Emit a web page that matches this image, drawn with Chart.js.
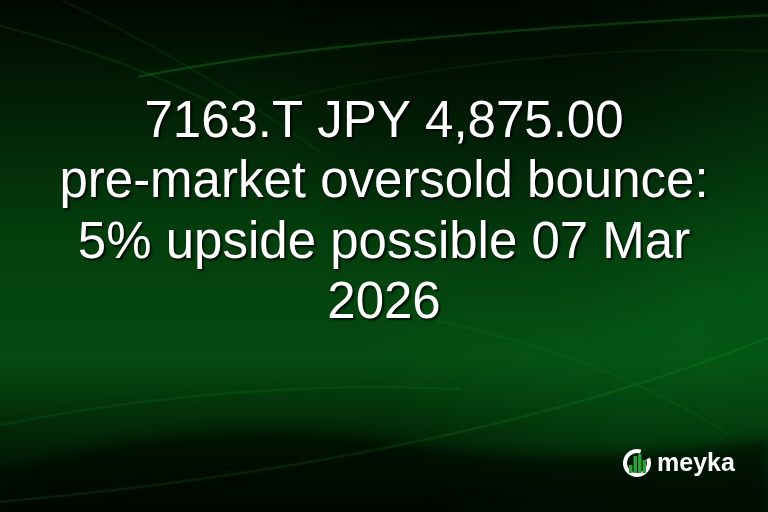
<!DOCTYPE html>
<html>
<head>
<meta charset="utf-8">
<script src="https://cdn.jsdelivr.net/npm/chart.js@4.4.1/dist/chart.umd.min.js"></script>
<style>
  html,body{margin:0;padding:0;background:#021203;}
  #wrap{width:768px;height:512px;position:relative;}
</style>
</head>
<body>
<div id="wrap"><canvas id="c" width="768" height="512"></canvas></div>
<script>
// headline lines and brand text
const titleLines = ["7163.T JPY 4,875.00", "pre-market oversold bounce:", "5% upside possible 07 Mar", "2026"];
const brandName = "meyka";
// no data series in this picture - it is a title card
const labels = [];
const values = [];

// light streaks across the background (start, control, end points as fractions, alpha)
const streaks = [
  [[0.18,0.15],[0.45,0.07],[1.00,0.03], 0.22],
  [[0.00,0.05],[0.18,0.12],[0.30,0.22], 0.10],
  [[0.08,0.00],[0.25,0.12],[0.42,0.30], 0.08],
  [[0.35,0.20],[0.70,0.08],[1.00,0.10], 0.08],
  [[0.00,0.83],[0.30,0.74],[0.60,0.76], 0.10],
  [[0.00,0.98],[0.60,0.90],[1.00,0.66], 0.12],
  [[0.55,0.62],[0.80,0.70],[0.95,0.85], 0.07],
];

const bgPlugin = {
  id: "bg",
  beforeDraw(chart){
    const {ctx, width:w, height:h} = chart;
    ctx.save();
    let g = ctx.createLinearGradient(0,0,0,h);
    g.addColorStop(0, "#000701");
    g.addColorStop(0.18, "#021d05");
    g.addColorStop(0.45, "#033d0c");
    g.addColorStop(0.7, "#054a10");
    g.addColorStop(0.85, "#022506");
    g.addColorStop(1, "#000701");
    ctx.fillStyle = g;
    ctx.fillRect(0,0,w,h);
    // brighter glow on the right side
    let r = ctx.createRadialGradient(w*0.9, h*0.55, 5, w*0.9, h*0.55, w*0.45);
    r.addColorStop(0, "rgba(5,100,25,0.6)");
    r.addColorStop(1, "rgba(5,100,25,0)");
    ctx.fillStyle = r;
    ctx.fillRect(0,0,w,h);
    // dark top-right corner
    let d = ctx.createRadialGradient(w*0.75, 0, 5, w*0.75, 0, w*0.45);
    d.addColorStop(0, "rgba(0,6,0,0.8)");
    d.addColorStop(1, "rgba(0,6,0,0)");
    ctx.fillStyle = d;
    ctx.fillRect(0,0,w,h);
    // dark hump at the bottom
    ctx.beginPath();
    ctx.moveTo(0, h*0.92);
    ctx.bezierCurveTo(w*0.2, h*0.84, w*0.35, h*0.82, w*0.5, h*0.86);
    ctx.bezierCurveTo(w*0.65, h*0.9, w*0.8, h*0.9, w, h*0.86);
    ctx.lineTo(w, h); ctx.lineTo(0, h); ctx.closePath();
    let hb = ctx.createLinearGradient(0, h*0.82, 0, h);
    hb.addColorStop(0, "rgba(0,10,0,0.55)");
    hb.addColorStop(1, "rgba(0,6,0,0.8)");
    ctx.fillStyle = hb;
    ctx.filter = "blur(6px)";
    ctx.fill();
    ctx.filter = "none";
    streaks.forEach(s => {
      ctx.beginPath();
      ctx.moveTo(s[0][0]*w, s[0][1]*h);
      ctx.quadraticCurveTo(s[1][0]*w, s[1][1]*h, s[2][0]*w, s[2][1]*h);
      ctx.strokeStyle = `rgba(50,190,60,${s[3]})`;
      ctx.lineWidth = 2.5;
      ctx.shadowColor = "rgba(30,170,40,0.6)";
      ctx.shadowBlur = 10;
      ctx.stroke();
    });
    ctx.restore();
    // shadow for the headline drawn by the title plugin
    ctx.shadowColor = "rgba(0,0,0,0.75)";
    ctx.shadowOffsetX = 2;
    ctx.shadowOffsetY = 2;
    ctx.shadowBlur = 2;
  },
  afterDraw(chart){
    const ctx = chart.ctx;
    ctx.shadowColor = "rgba(0,0,0,0)";
    ctx.shadowOffsetX = 0;
    ctx.shadowOffsetY = 0;
    ctx.shadowBlur = 0;
    ctx.save();
    // logo mark
    const cx = 637, cy = 463, r = 12;
    ctx.strokeStyle = "#ffffff";
    ctx.lineWidth = 4;
    ctx.beginPath();
    ctx.arc(cx, cy, r, -0.12*Math.PI, 1.6*Math.PI);
    ctx.stroke();
    ctx.fillStyle = "#2f9e35";
    [[-8,8],[-3.5,17],[1,19],[5.5,13]].forEach(b => {
      ctx.fillRect(cx + b[0], cy + 10 - b[1], 3.5, b[1]);
    });
    ctx.fillStyle = "#ffffff";
    ctx.font = "bold 25px 'Liberation Sans', Arial, sans-serif";
    ctx.textBaseline = "alphabetic";
    ctx.fillText(brandName, 657, 471);
    ctx.restore();
  }
};

new Chart(document.getElementById("c"), {
  type: "line",
  data: { labels, datasets: [{ data: values }] },
  plugins: [bgPlugin],
  options: {
    responsive: false,
    animation: false,
    events: [],
    layout: { padding: 0 },
    scales: { x: { display: false }, y: { display: false } },
    plugins: {
      legend: { display: false },
      tooltip: { enabled: false },
      title: {
        display: true,
        text: titleLines,
        color: "#ffffff",
        font: { family: "'Liberation Sans', Arial, sans-serif", size: 51, weight: "normal", lineHeight: 1.18 },
        padding: { top: 93, bottom: 0 }
      }
    }
  }
});
</script>
</body>
</html>
